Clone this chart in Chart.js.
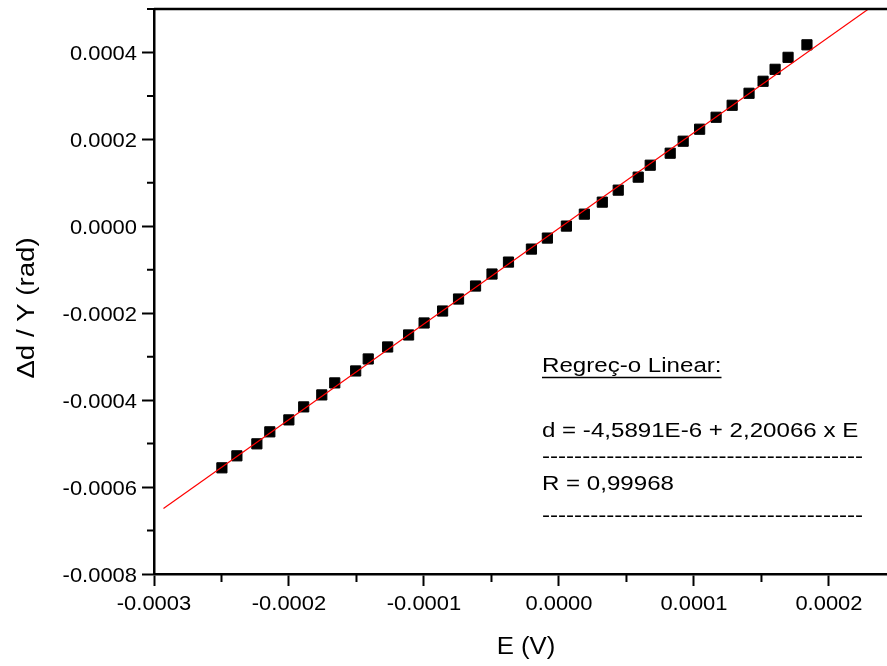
<!DOCTYPE html>
<html>
<head>
<meta charset="utf-8">
<script src="https://cdn.jsdelivr.net/npm/chart.js@4.4.1/dist/chart.umd.min.js"></script>
<style>
  html, body { margin: 0; padding: 0; background: #fff; }
  canvas { display: block; }
</style>
</head>
<body>
<canvas id="chart" width="887" height="666"></canvas>
<script>
// measured points: applied voltage E (V) and relative deflection Δd/Y (rad)
const voltage = [-0.0002497, -0.0002386, -0.0002238, -0.0002142, -0.0002001, -0.0001891,
  -0.0001757, -0.0001661, -0.0001506, -0.0001413, -0.0001269, -0.0001114, -0.0000999,
  -0.0000862, -0.0000744, -0.0000618, -0.0000496, -0.0000374, -0.0000204, -0.0000086,
  0.0000055, 0.0000188, 0.0000321, 0.0000439, 0.0000587, 0.0000676, 0.0000824, 0.0000920,
  0.0001042, 0.0001164, 0.0001283, 0.0001408, 0.0001512, 0.0001601, 0.0001697, 0.0001837];
const deflection = [-0.0005557, -0.0005281, -0.0005005, -0.0004729, -0.0004454, -0.0004155,
  -0.0003879, -0.0003603, -0.0003328, -0.0003052, -0.0002776, -0.0002500, -0.0002224,
  -0.0001949, -0.0001673, -0.0001374, -0.0001098, -0.0000823, -0.0000524, -0.0000271,
  0.0000005, 0.0000280, 0.0000556, 0.0000832, 0.0001131, 0.0001406, 0.0001682, 0.0001958,
  0.0002234, 0.0002509, 0.0002785, 0.0003061, 0.0003337, 0.0003612, 0.0003888, 0.0004176];

// linear fit d = a + b * E, drawn over this E range
const fitIntercept = -4.5891e-6;
const fitSlope = 2.20066;
const fitRange = [-0.000293, 0.000229];

const xTicks = [-0.0003, -0.0002, -0.0001, 0.0000, 0.0001, 0.0002];
const xMinor = [-0.00025, -0.00015, -0.00005, 0.00005, 0.00015];
const yTicks = [-0.0008, -0.0006, -0.0004, -0.0002, 0.0000, 0.0002, 0.0004];
const yMinor = [-0.0007, -0.0005, -0.0003, -0.0001, 0.0001, 0.0003, 0.0005];

const noteLines = ['Regreç-o Linear:', 'd = -4,5891E-6 + 2,20066 x E', 'R = 0,99968'];

const FONT = '"Liberation Sans", Arial, sans-serif';

function fmt(v) {
  const s = v.toFixed(4);
  return s === '-0.0000' ? '0.0000' : s;
}

// text is drawn a little wider than the font's natural width
function wideText(ctx, str, x, y, size, stretch, align, angle) {
  ctx.save();
  ctx.translate(x, y);
  if (angle) ctx.rotate(angle);
  ctx.scale(stretch, 1);
  ctx.font = size + 'px ' + FONT;
  ctx.textAlign = align;
  ctx.textBaseline = 'alphabetic';
  ctx.fillStyle = '#000';
  ctx.fillText(str, 0, 0);
  ctx.restore();
}

const fitPoints = fitRange.map(e => ({ x: e, y: fitIntercept + fitSlope * e }));
const dataPoints = voltage.map((e, i) => ({ x: e, y: deflection[i] }));

const framePlugin = {
  id: 'frame',
  afterDraw(chart) {
    const ctx = chart.ctx;
    const area = chart.chartArea;
    const xs = chart.scales.x;
    const ys = chart.scales.y;

    ctx.save();
    ctx.strokeStyle = '#000';
    ctx.lineWidth = 2.5;
    ctx.beginPath();
    ctx.moveTo(area.left, area.top);
    ctx.lineTo(area.right, area.top);
    ctx.stroke();

    // minor ticks
    ctx.lineWidth = 2;
    ctx.beginPath();
    xMinor.forEach(v => {
      const px = xs.getPixelForValue(v);
      ctx.moveTo(px, area.bottom);
      ctx.lineTo(px, area.bottom + 8);
    });
    yMinor.forEach(v => {
      const py = ys.getPixelForValue(v);
      ctx.moveTo(area.left, py);
      ctx.lineTo(area.left - 7, py);
    });
    ctx.stroke();
    ctx.restore();

    // tick labels
    xTicks.forEach(v => {
      wideText(ctx, fmt(v), xs.getPixelForValue(v), area.bottom + 36, 20.5, 1.07, 'center');
    });
    yTicks.forEach(v => {
      wideText(ctx, fmt(v), area.left - 17, ys.getPixelForValue(v) + 7.5, 20.5, 1.07, 'right');
    });

    // axis titles
    wideText(ctx, 'E (V)', 526, 654, 23, 1.12, 'center');
    wideText(ctx, 'Δd / Y (rad)', 34, 308, 23, 1.2, 'center', -Math.PI / 2);

    // regression note
    const left = 542;
    wideText(ctx, noteLines[0], left, 372, 19.6, 1.23, 'left');
    ctx.save();
    ctx.font = '19.6px ' + FONT;
    const w = ctx.measureText(noteLines[0]).width * 1.23;
    ctx.strokeStyle = '#000';
    ctx.lineWidth = 1.5;
    ctx.beginPath();
    ctx.moveTo(left, 377.5);
    ctx.lineTo(left + w, 377.5);
    ctx.stroke();
    ctx.restore();
    const dashes = '-'.repeat(40);
    wideText(ctx, noteLines[1], left, 437, 19.6, 1.23, 'left');
    wideText(ctx, dashes, left, 462.5, 19.6, 1.23, 'left');
    wideText(ctx, noteLines[2], left, 490, 19.6, 1.23, 'left');
    wideText(ctx, dashes, left, 522, 19.6, 1.23, 'left');
  }
};

new Chart(document.getElementById('chart'), {
  type: 'scatter',
  data: {
    datasets: [
      {
        type: 'line',
        data: fitPoints,
        borderColor: '#ff0000',
        borderWidth: 1.2,
        pointRadius: 0,
        fill: false
      },
      {
        data: dataPoints,
        pointStyle: 'rect',
        pointRadius: 7.2,
        backgroundColor: '#000',
        borderColor: '#000',
        borderWidth: 1
      }
    ]
  },
  options: {
    responsive: false,
    animation: false,
    devicePixelRatio: 1,
    layout: { autoPadding: false, padding: { top: 9, right: 0, bottom: 0, left: 0 } },
    plugins: { legend: { display: false }, tooltip: { enabled: false } },
    scales: {
      x: {
        type: 'linear',
        min: -0.0003,
        max: 0.000243,
        afterBuildTicks: s => { s.ticks = xTicks.map(v => ({ value: v })); },
        afterFit: s => { s.height = 92; },
        ticks: { display: false },
        grid: { drawOnChartArea: false, tickLength: 12, tickWidth: 2, tickColor: '#000' },
        border: { color: '#000', width: 2.5 }
      },
      y: {
        type: 'linear',
        min: -0.0008,
        max: 0.0005,
        afterBuildTicks: s => { s.ticks = yTicks.map(v => ({ value: v })); },
        afterFit: s => { s.width = 154; },
        ticks: { display: false },
        grid: { drawOnChartArea: false, tickLength: 12, tickWidth: 2, tickColor: '#000' },
        border: { color: '#000', width: 2.5 }
      }
    }
  },
  plugins: [framePlugin]
});
</script>
</body>
</html>
